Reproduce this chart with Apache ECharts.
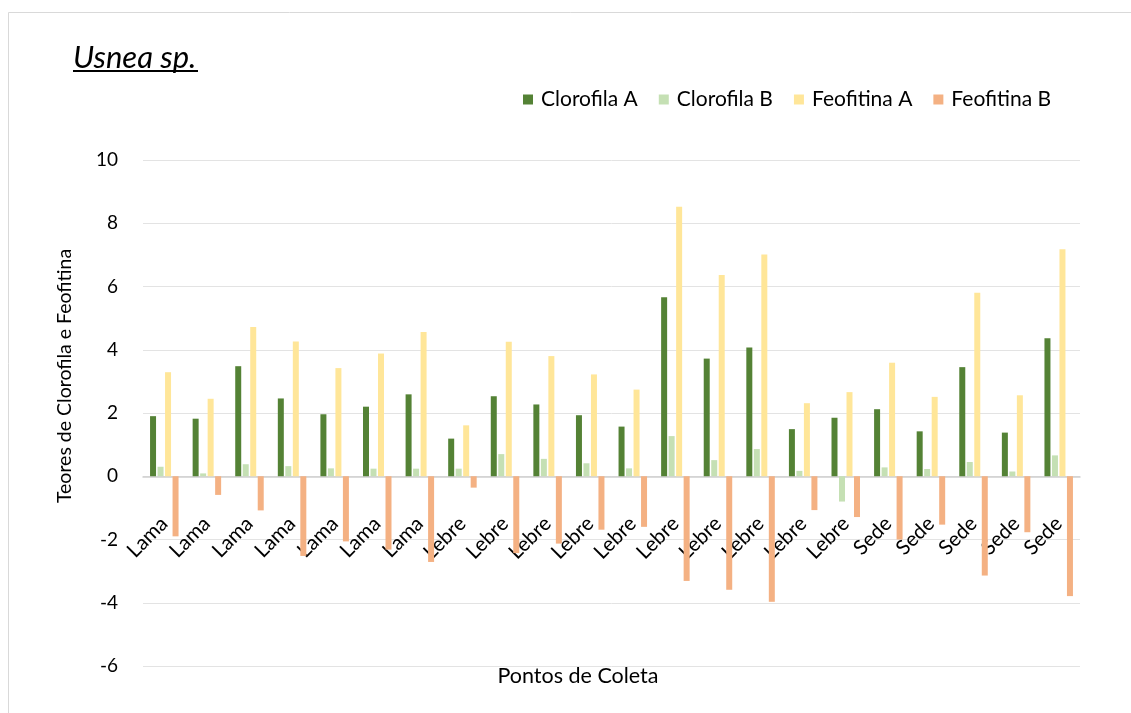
<!DOCTYPE html>
<html>
<head>
<meta charset="utf-8">
<style>
  html, body { margin: 0; padding: 0; background: #ffffff; }
  #chart { width: 1131px; height: 713px; }
</style>
<script src="https://cdn.jsdelivr.net/npm/echarts@6/dist/echarts.min.js"></script>
</head>
<body>
<div id="chart"></div>
<script>
// Sampling points (pontos de coleta)
const categories = [
  'Lama', 'Lama', 'Lama', 'Lama', 'Lama', 'Lama', 'Lama',
  'Lebre', 'Lebre', 'Lebre', 'Lebre', 'Lebre', 'Lebre', 'Lebre', 'Lebre', 'Lebre', 'Lebre',
  'Sede', 'Sede', 'Sede', 'Sede', 'Sede'
];

// Pigment contents per sampling point
const clorofilaA = [1.90, 1.82, 3.48, 2.46, 1.96, 2.20, 2.59, 1.19, 2.53, 2.27, 1.93, 1.57, 5.66, 3.72, 4.07, 1.49, 1.85, 2.12, 1.42, 3.45, 1.38, 4.36];
const clorofilaB = [0.30, 0.09, 0.38, 0.32, 0.25, 0.24, 0.24, 0.24, 0.70, 0.55, 0.41, 0.25, 1.27, 0.51, 0.86, 0.17, -0.80, 0.28, 0.23, 0.45, 0.15, 0.66];
const feofitinaA = [3.29, 2.45, 4.72, 4.26, 3.42, 3.88, 4.56, 1.61, 4.25, 3.80, 3.22, 2.74, 8.52, 6.36, 7.01, 2.31, 2.66, 3.59, 2.51, 5.80, 2.56, 7.18];
const feofitinaB = [-1.90, -0.59, -1.08, -2.52, -2.06, -2.32, -2.71, -0.36, -2.43, -2.13, -1.69, -1.60, -3.31, -3.59, -3.97, -1.07, -1.29, -2.00, -1.53, -3.14, -1.77, -3.79];

// Value axis range
const yMin = -6;
const yMax = 10;
const yStep = 2;

const seriesNames = ['Clorofila A', 'Clorofila B', 'Feofitina A', 'Feofitina B'];
const seriesColors = ['#548235', '#C5E0B4', '#FFE699', '#F4B183'];
const seriesData = [clorofilaA, clorofilaB, feofitinaA, feofitinaB];

const FONT = 'Lato, "Noto Sans", sans-serif';

// Plot area geometry
const GRID_TOP = 160;
const GRID_BOTTOM = 47;
const GRID_HEIGHT = 713 - GRID_TOP - GRID_BOTTOM;
// Category axis sits on the zero line, lifted from the bottom of the plot
const zeroOffset = -GRID_HEIGHT * (0 - yMin) / (yMax - yMin);

const chart = echarts.init(document.getElementById('chart'), null, { renderer: 'canvas' });

const option = {
  animation: false,
  backgroundColor: '#ffffff',
  textStyle: { fontFamily: FONT },
  title: {
    text: 'Usnea sp.',
    left: 73,
    top: 42,
    padding: 0,
    textStyle: {
      fontFamily: FONT,
      fontStyle: 'italic',
      fontWeight: 'normal',
      fontSize: 31,
      color: '#000000'
    }
  },
  legend: {
    data: seriesNames,
    left: 523,
    top: 89,
    itemWidth: 10,
    itemHeight: 10,
    itemGap: 21,
    icon: 'rect',
    padding: 0,
    textStyle: { fontFamily: FONT, fontSize: 21, color: '#000000', padding: [0, 0, 0, 3] }
  },
  grid: {
    left: 143,
    right: 51,
    top: GRID_TOP,
    bottom: GRID_BOTTOM,
    outerBoundsMode: 'none',
    containLabel: false
  },
  xAxis: {
    type: 'category',
    data: categories,
    offset: zeroOffset,
    axisLine: { onZero: false, lineStyle: { color: '#d0d0d0', width: 1.5 } },
    axisTick: { show: false },
    splitLine: { show: false },
    axisLabel: {
      interval: 0,
      rotate: 45,
      margin: 44,
      fontFamily: FONT,
      fontSize: 20.5,
      color: '#000000'
    }
  },
  yAxis: {
    type: 'value',
    min: yMin,
    max: yMax,
    interval: yStep,
    axisLine: { show: false },
    axisTick: { show: false },
    splitLine: { lineStyle: { color: '#e3e3e3', width: 1 } },
    axisLabel: {
      margin: 25,
      fontFamily: FONT,
      fontSize: 19,
      color: '#000000'
    }
  },
  series: seriesNames.map((name, i) => ({
    name: name,
    type: 'bar',
    data: seriesData[i],
    barWidth: 6,
    barGap: '25%',
    itemStyle: { color: seriesColors[i] }
  })),
  graphic: [
    {
      type: 'rect',
      shape: { x: 8.5, y: 12.5, width: 1140, height: 720 },
      style: { fill: 'none', stroke: '#d9d9d9', lineWidth: 1 },
      silent: true
    },
    {
      type: 'line',
      shape: { x1: 73, y1: 71, x2: 198, y2: 71 },
      style: { stroke: '#000000', lineWidth: 2 },
      silent: true
    },
    {
      type: 'text',
      x: 65,
      y: 376,
      rotation: Math.PI / 2,
      style: {
        text: 'Teores de Clorofila e Feofitina',
        fontFamily: FONT,
        fontSize: 19.5,
        fill: '#000000',
        textAlign: 'center',
        textVerticalAlign: 'middle'
      },
      silent: true
    },
    {
      type: 'text',
      x: 578,
      y: 676,
      style: {
        text: 'Pontos de Coleta',
        fontFamily: FONT,
        fontSize: 21.5,
        fill: '#000000',
        textAlign: 'center',
        textVerticalAlign: 'middle'
      },
      silent: true
    }
  ]
};

chart.setOption(option);
</script>
</body>
</html>
